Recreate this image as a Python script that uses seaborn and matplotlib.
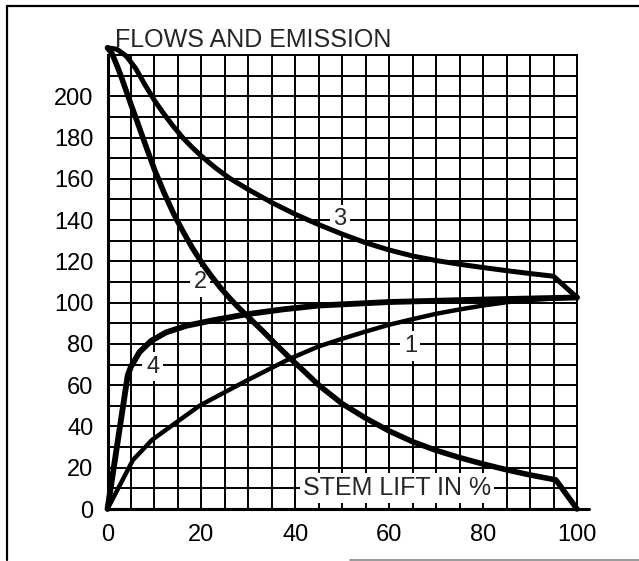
import numpy as np
import pandas as pd
import seaborn as sns
import matplotlib.pyplot as plt
from matplotlib.lines import Line2D

# values: stem lift in %, flow / emission
lift_1 = [0, 5.4, 9.5, 14.3, 19.7, 29.7, 38.7, 45, 50, 55, 60, 65, 70, 75, 80, 85, 90, 95, 100]
flow_1 = [0, 23.7, 33.5, 41.4, 50.2, 62.3, 72.7, 78.8, 82.5, 86, 89.3, 92, 94.6, 96.7, 98.6, 100.2, 101.3, 102, 102.5]

lift_2 = [0, 1, 2, 3, 4, 5, 6, 8, 10, 12, 14, 16, 18, 20, 22, 24, 26, 28, 30, 33, 36, 39, 42,
          45, 50, 55, 60, 65, 70, 75, 80, 85, 90, 95.5, 100]
flow_2 = [223.5, 220.5, 215, 209, 202.5, 196, 189.8, 177, 164.5, 153.5, 143.5, 134.8, 126.8, 119.6,
          113.2, 107.4, 102.2, 97.4, 93, 86.4, 79.5, 72.8, 66.5, 60, 51, 44, 37.8, 32.6, 28.4, 24.9,
          21.8, 19, 16.5, 14.1, 0]

lift_3 = [0, 2, 4, 6, 8, 10, 12, 14, 16, 18, 20, 23, 26, 30, 35, 40, 45, 50, 55, 60, 65, 70, 75,
          80, 85, 90, 95, 100]
flow_3 = [223.5, 222.8, 219.5, 213.5, 205.5, 198, 191.5, 185.5, 180, 175.3, 171, 165.3, 160.3,
          154.8, 148.5, 142.8, 137.8, 133.2, 129, 125.5, 122.6, 120.4, 118.6, 117, 115.5, 114.1,
          112.8, 102.5]

lift_4 = [0, 4.3, 5, 6.8, 9.3, 12.5, 16.8, 22.6, 29.7, 37.6, 45, 60, 80, 100]
flow_4 = [0, 64.7, 69, 76, 81.5, 85.6, 88.8, 91.5, 94.4, 96.8, 98.6, 100.3, 101.5, 102.5]

curve_names = ['1', '2', '3', '4']
label_x = [64.5, 19.7, 49.5, 9.6]
label_y = [79, 110, 140.5, 69]

x_ticks = list(range(0, 101, 10))
x_labels = ['0', '', '20', '', '40', '', '60', '', '80', '', '100']
y_ticks = list(range(0, 221, 10))
y_labels = [str(v) if v % 20 == 0 and v <= 200 else '' for v in y_ticks]

sns.set_style('white')
plt.rcParams['font.family'] = ['Liberation Sans', 'DejaVu Sans']

fig = plt.figure(figsize=(6.39, 5.61), dpi=100)
ax = fig.add_axes([107.5 / 639, 52 / 561, 469.5 / 639, 454 / 561])

df = pd.DataFrame({
    'lift': lift_1 + lift_2 + lift_3 + lift_4,
    'flow': flow_1 + flow_2 + flow_3 + flow_4,
    'curve': ['1'] * len(lift_1) + ['2'] * len(lift_2) + ['3'] * len(lift_3) + ['4'] * len(lift_4),
})
widths = {'1': 3.2, '2': 4.0, '3': 3.6, '4': 4.2}
for name in curve_names:
    sub = df[df.curve == name]
    sns.lineplot(data=sub, x='lift', y='flow', ax=ax, color='black', lw=widths[name],
                 estimator=None, sort=False, clip_on=False, zorder=4,
                 solid_capstyle='round', solid_joinstyle='round')

ax.set_xlim(0, 100)
ax.set_ylim(0, 220)
ax.set_xticks(x_ticks)
ax.set_xticklabels(x_labels)
ax.set_xticks(list(range(0, 101, 5)), minor=True)
ax.set_yticks(y_ticks)
ax.set_yticklabels(y_labels)
ax.set_xlabel('')
ax.set_ylabel('')

ax.grid(True, which='both', axis='x', color='black', lw=1.4)
ax.grid(True, which='major', axis='y', color='black', lw=1.4)
ax.set_axisbelow(True)

ax.tick_params(axis='both', which='major', direction='out', length=6, width=1.6,
               colors='black', labelsize=17)
ax.tick_params(axis='x', which='major', pad=5)
ax.tick_params(axis='y', which='major', pad=4)
ax.tick_params(axis='x', which='minor', length=0)

for side in ['top', 'right']:
    ax.spines[side].set_linewidth(1.4)
    ax.spines[side].set_color('black')
for side in ['left', 'bottom']:
    ax.spines[side].set_linewidth(2.2)
    ax.spines[side].set_color('black')
ax.axhline(0, xmin=0, xmax=1.025, color='black', lw=2.2, clip_on=False)

box = dict(boxstyle='square,pad=0.15', fc='white', ec='none')
for name, lx, ly in zip(curve_names, label_x, label_y):
    ax.text(lx, ly, name, fontsize=17, ha='center', va='center', bbox=box, zorder=3)

ax.text(41.7, 10, 'STEM LIFT IN %', fontsize=18, ha='left', va='center', zorder=3,
        bbox=dict(boxstyle='square,pad=0.12', fc='white', ec='none'))

fig.text(115 / 639, (561 - 47) / 561, 'FLOWS AND EMISSION', fontsize=18,
         ha='left', va='baseline')

# scanned outer frame
fig.add_artist(Line2D([7 / 639, 7 / 639], [1 - 560 / 561, 1 - 6 / 561], color='black', lw=1.6))
fig.add_artist(Line2D([7 / 639, 1.0], [1 - 6 / 561, 1 - 6 / 561], color='black', lw=1.6))
fig.add_artist(Line2D([350 / 639, 1.0], [1 - 559.5 / 561, 1 - 559.5 / 561], color='#888888', lw=1.2))

fig.savefig('out.png', dpi=100)
